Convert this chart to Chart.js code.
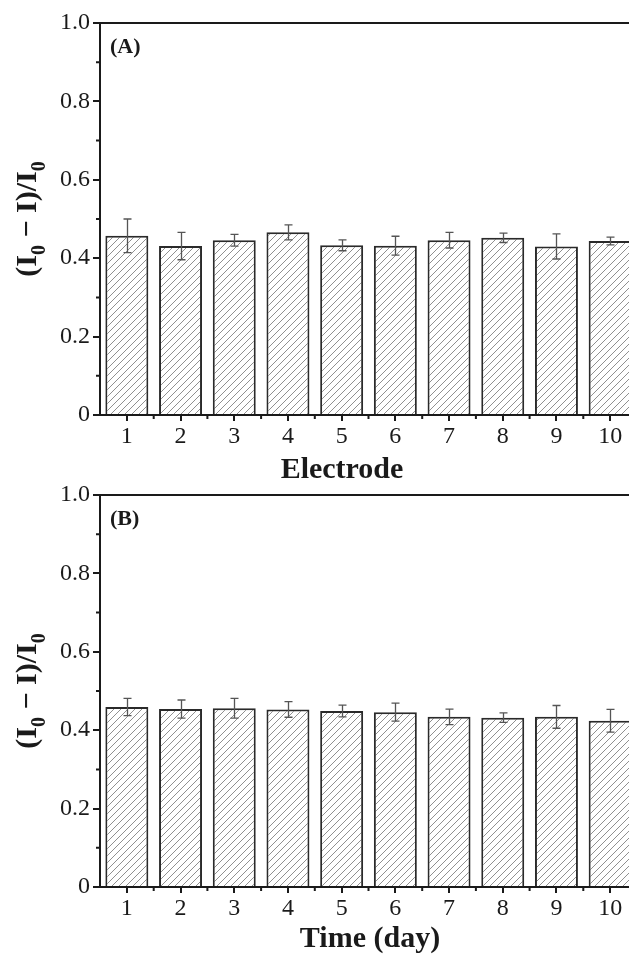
<!DOCTYPE html>
<html>
<head>
<meta charset="utf-8">
<script src="https://cdn.jsdelivr.net/npm/chart.js@4.4.1/dist/chart.umd.min.js"></script>
<style>
  html, body { margin: 0; padding: 0; background: #fff; overflow: hidden; width: 629px; height: 955px; }
  canvas { display: block; }
</style>
</head>
<body>
<canvas id="chartA" width="637" height="480"></canvas>
<canvas id="chartB" width="637" height="475"></canvas>
<script>
// values
const labels = ['1', '2', '3', '4', '5', '6', '7', '8', '9', '10'];
const electrodeValues = [0.457, 0.431, 0.446, 0.466, 0.433, 0.432, 0.446, 0.452, 0.430, 0.444];
const electrodeErrors = [0.043, 0.035, 0.015, 0.019, 0.014, 0.024, 0.020, 0.012, 0.032, 0.010];
const dayValues = [0.459, 0.454, 0.456, 0.453, 0.449, 0.446, 0.434, 0.432, 0.434, 0.424];
const dayErrors = [0.022, 0.023, 0.025, 0.020, 0.015, 0.023, 0.020, 0.012, 0.029, 0.029];
const minorYTicks = [0.1, 0.3, 0.5, 0.7, 0.9];

const SERIF = "'Liberation Serif', 'Times New Roman', serif";
const INK = '#1a1a1a';

// diagonal hatch fill for the bars
function makeHatch() {
    const n = 7;
    const c = document.createElement('canvas');
    c.width = n; c.height = n;
    const g = c.getContext('2d');
    g.fillStyle = '#fff';
    g.fillRect(0, 0, n, n);
    g.strokeStyle = '#909090';
    g.lineWidth = 1;
    g.beginPath();
    g.moveTo(-1, n + 1); g.lineTo(n + 1, -1);
    g.moveTo(-n - 1, n + 1); g.lineTo(1, -1);
    g.moveTo(n - 1, 2 * n + 1); g.lineTo(2 * n + 1, n - 1);
    g.stroke();
    return g.createPattern(c, 'repeat');
}

// error bars, minor ticks, frame and the text Chart.js can't do (subscripts)
const decor = {
    id: 'decor',
    afterDatasetsDraw(chart, args, opts) {
        const ctx = chart.ctx;
        const { left, right, top, bottom } = chart.chartArea;
        const xs = chart.scales.x, ys = chart.scales.y;
        const vals = chart.data.datasets[0].data;
        ctx.save();

        // error bars
        ctx.strokeStyle = '#555';
        ctx.lineWidth = 1.3;
        opts.errors.forEach((e, i) => {
            const px = Math.round(xs.getPixelForValue(i)) + 0.5;
            const y1 = ys.getPixelForValue(vals[i] + e);
            const y2 = ys.getPixelForValue(vals[i] - e);
            ctx.beginPath();
            ctx.moveTo(px, y1); ctx.lineTo(px, y2);
            ctx.moveTo(px - 4, y1); ctx.lineTo(px + 4, y1);
            ctx.moveTo(px - 4, y2); ctx.lineTo(px + 4, y2);
            ctx.stroke();
        });

        // top frame line
        ctx.strokeStyle = INK;
        ctx.lineWidth = 2;
        ctx.beginPath();
        ctx.moveTo(left - 1, top); ctx.lineTo(right, top);
        ctx.stroke();

        // minor ticks
        ctx.beginPath();
        minorYTicks.forEach(v => {
            const py = ys.getPixelForValue(v);
            ctx.moveTo(left, py); ctx.lineTo(left - 4, py);
        });
        const half = (xs.getPixelForValue(1) - xs.getPixelForValue(0)) / 2;
        labels.forEach((l, i) => {
            const px = xs.getPixelForValue(i) + half;
            ctx.moveTo(px, bottom); ctx.lineTo(px, bottom + 4);
        });
        ctx.stroke();

        ctx.fillStyle = INK;

        // panel label
        ctx.font = 'bold 22px ' + SERIF;
        ctx.textBaseline = 'middle';
        ctx.textAlign = 'left';
        ctx.fillText(opts.panel, left + 10, top + 24);

        // x title
        ctx.font = 'bold 30px ' + SERIF;
        ctx.textAlign = 'center';
        ctx.textBaseline = 'alphabetic';
        ctx.fillText(opts.xTitle, opts.xTitleX, opts.xTitleY);

        // y title: (I0 - I)/I0 with subscripts, rotated
        const parts = [['(I', false], ['0', true], [' \u2212 I)/I', false], ['0', true]];
        const big = 'bold 30px ' + SERIF, small = 'bold 20px ' + SERIF;
        let total = 0;
        parts.forEach(p => { ctx.font = p[1] ? small : big; total += ctx.measureText(p[0]).width; });
        ctx.translate(36, (top + bottom) / 2);
        ctx.rotate(-Math.PI / 2);
        ctx.textAlign = 'left';
        let cx = -total / 2;
        parts.forEach(p => {
            ctx.font = p[1] ? small : big;
            ctx.fillText(p[0], cx, p[1] ? 9 : 0);
            cx += ctx.measureText(p[0]).width;
        });
        ctx.restore();
    }
};

function buildChart(id, values, errors, panel, xTitle, xTitleX, xTitleY, padTop, xHeight) {
    const ctx = document.getElementById(id).getContext('2d');
    return new Chart(ctx, {
        type: 'bar',
        data: {
            labels: labels,
            datasets: [{
                data: values,
                backgroundColor: makeHatch(),
                borderColor: '#2a2a2a',
                borderWidth: 2,
                barPercentage: 0.8,
                categoryPercentage: 1.0
            }]
        },
        options: {
            responsive: false,
            animation: false,
            devicePixelRatio: 1,
            layout: { padding: { top: padTop, left: 0, right: 0, bottom: 0 } },
            plugins: {
                legend: { display: false },
                tooltip: { enabled: false },
                decor: { errors: errors, panel: panel, xTitle: xTitle, xTitleX: xTitleX, xTitleY: xTitleY }
            },
            scales: {
                x: {
                    offset: true,
                    grid: { offset: false, drawOnChartArea: false, drawTicks: true, tickLength: 6, color: INK, lineWidth: 2 },
                    border: { display: true, color: INK, width: 2 },
                    ticks: { color: INK, font: { family: SERIF, size: 24, lineHeight: 1.2 }, padding: 1, maxRotation: 0 },
                    afterFit: s => { s.height = xHeight; }
                },
                y: {
                    min: 0,
                    max: 1,
                    grid: { drawOnChartArea: false, drawTicks: true, tickLength: 7, color: INK, lineWidth: 2 },
                    border: { display: true, color: INK, width: 2 },
                    ticks: {
                        stepSize: 0.2,
                        color: INK,
                        padding: 3,
                        font: { family: SERIF, size: 24, lineHeight: 1 },
                        callback: v => (v === 0 ? '0' : v.toFixed(1))
                    },
                    afterFit: s => { s.width = 100; }
                }
            }
        },
        plugins: [decor]
    });
}

buildChart('chartA', electrodeValues, electrodeErrors, '(A)', 'Electrode', 342, 478, 23, 65);
buildChart('chartB', dayValues, dayErrors, '(B)', 'Time (day)', 370, 467, 14, 68);
</script>
</body>
</html>
